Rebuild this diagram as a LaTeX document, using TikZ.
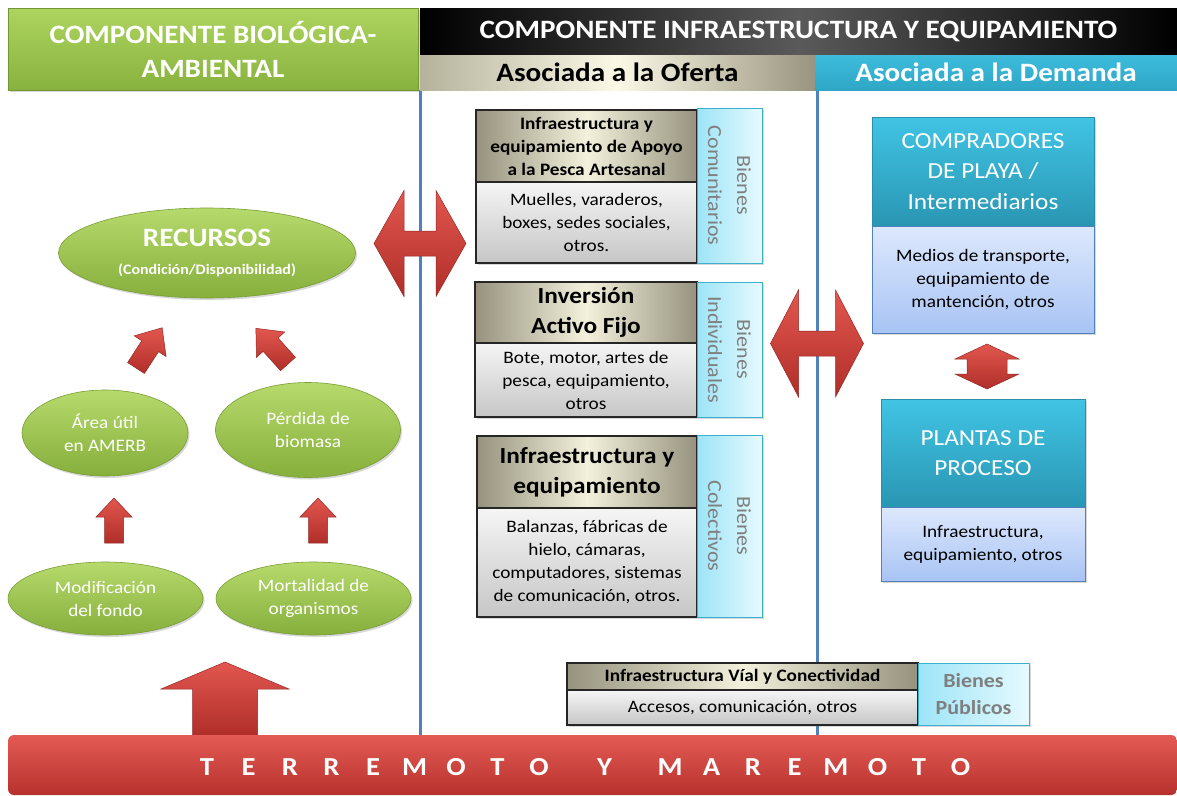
\documentclass[tikz,border=0pt]{standalone}
\usepackage{fontspec}
\setmainfont{Carlito}[FakeStretch=1.1]
\usetikzlibrary{shapes.geometric,shadows}
\definecolor{cGreenT}{HTML}{ADD45F}
\definecolor{cGreenB}{HTML}{88B23E}
\definecolor{cEllT}{HTML}{B6DA6C}
\definecolor{cEllB}{HTML}{86AF3C}
\definecolor{cGrayMid}{HTML}{5A5A5A}
\definecolor{cBeigeL}{HTML}{B5B29C}
\definecolor{cCream}{HTML}{FBF9E6}
\definecolor{cBeigeR}{HTML}{98947F}
\definecolor{cCyanT}{HTML}{3DBCDC}
\definecolor{cCyanB}{HTML}{2FA6C6}
\definecolor{cLine}{HTML}{4F81BD}
\definecolor{cRedT}{HTML}{E35A54}
\definecolor{cRedB}{HTML}{B8322D}
\definecolor{cArrT}{HTML}{E2574F}
\definecolor{cArrB}{HTML}{B02E29}
\definecolor{cHdrE}{HTML}{96927D}
\definecolor{cHdrC}{HTML}{F3F1DC}
\definecolor{cBodyT}{HTML}{F5F5F5}
\definecolor{cBodyB}{HTML}{C6C6C6}
\definecolor{cSideL}{HTML}{9DE4F7}
\definecolor{cSideR}{HTML}{E6FAFE}
\definecolor{cSideD}{HTML}{3FAFD0}
\definecolor{cSideTxt}{HTML}{7F7F7F}
\definecolor{cDemT}{HTML}{41C4E4}
\definecolor{cDemB}{HTML}{2996B3}
\definecolor{cDemD}{HTML}{2A8DAA}
\definecolor{cDBodyT}{HTML}{DDE8FD}
\definecolor{cDBodyB}{HTML}{A8C4F4}
\newcommand\fsz[2]{\fontsize{#1}{#2}\selectfont}
\newcommand\LB[1]{\makebox[41.5pt]{#1}}
\tikzset{
 softshadow/.style={drop shadow={shadow xshift=1.5pt, shadow yshift=-2pt, opacity=0.3}},
 arrfill/.style={top color=cArrT, bottom color=cArrB, draw=cArrB!85!black, line width=0.5pt},
 pics/uparr/.style n args={4}{code={
   \path[arrfill] (-#2,0) -- (-#2,-#1+#4) -- (-#3,-#1+#4) -- (0,-#1) -- (#3,-#1+#4) -- (#2,-#1+#4) -- (#2,0) -- cycle;}},
 pics/dblarr/.style n args={4}{code={
   \path[arrfill] (-#1,0) -- (-#1+#4,-#3) -- (-#1+#4,-#2) -- (#1-#4,-#2) -- (#1-#4,-#3) -- (#1,0) -- (#1-#4,#3) -- (#1-#4,#2) -- (-#1+#4,#2) -- (-#1+#4,#3) -- cycle;}},
 hdrbase/.style={rectangle, inner sep=0pt, align=center, text=white, font=\bfseries\fsz{26.5}{34}},
 hgreen/.style={hdrbase, top color=cGreenT, bottom color=cGreenB, draw=cGreenB!85!black, line width=0.6pt, softshadow},
 hblack/.style={hdrbase, left color=black, right color=black, middle color=cGrayMid},
 hoferta/.style={hdrbase, text=black, left color=cBeigeL, right color=cBeigeR, middle color=cCream},
 hdemanda/.style={hdrbase, top color=cCyanT, bottom color=cCyanB},
 vline/.style={draw=cLine, line width=3pt},
 ell/.style={ellipse, inner sep=0pt, top color=cEllT, bottom color=cEllB, draw=cEllB!90!black, line width=0.6pt, text=white, align=center, softshadow},
 ellsmall/.style={ell, font=\fsz{17.5}{23}},
 bhdr/.style={rectangle, inner sep=0pt, left color=cHdrE, right color=cHdrE, middle color=cHdrC, draw=black!85, line width=1.2pt, align=center, text=black, softshadow},
 bbody/.style={rectangle, inner sep=0pt, top color=cBodyT, bottom color=cBodyB, draw=black!85, line width=1.2pt, align=center, font=\fsz{17.5}{23}, softshadow},
 bside/.style={rectangle, inner sep=0pt, left color=cSideL, right color=cSideR, draw=cSideD, line width=1pt, softshadow},
 sidetxt/.style={text=cSideTxt, align=center, font=\fsz{20}{29}, inner sep=0pt},
 dhdr/.style={rectangle, inner sep=0pt, top color=cDemT, bottom color=cDemB, draw=cDemD, line width=1pt, text=white, align=center, font=\fsz{23}{30.5}, softshadow},
 dbody/.style={rectangle, inner sep=0pt, top color=cDBodyT, bottom color=cDBodyB, draw=cLine, line width=1pt, align=center, font=\fsz{17.5}{23}, softshadow},
}
\begin{document}
\begin{tikzpicture}[x=1pt, y=-1pt]
\useasboundingbox (0,0) rectangle (1177,795);
\fill[white] (0,0) rectangle (1177,795);

% vertical separators
\coordinate (v1a) at (420,90);
\coordinate (v1b) at (420,735);
\coordinate (v2a) at (817,90);
\coordinate (v2b) at (817,735);
\draw[vline] (v1a) -- (v1b);
\draw[vline] (v2a) -- (v2b);

% headers
\node[hgreen, minimum width=410pt, minimum height=82pt] (hbio) at (213,49) {COMPONENTE BIOLÓGICA-\\AMBIENTAL};
\node[hblack, minimum width=757pt, minimum height=47pt] (hinf) at (798.5,31.5) {COMPONENTE INFRAESTRUCTURA Y EQUIPAMIENTO};
\node[hoferta, minimum width=395pt, minimum height=35pt] (hofe) at (617.5,72.5) {Asociada a la Oferta};
\node[hdemanda, minimum width=362pt, minimum height=35pt] (hdem) at (996,72.5) {Asociada a la Demanda};

% left column ellipses
\node[ell, minimum width=297pt, minimum height=90pt, font=\bfseries\fsz{26.5}{28}] (rec) at (207,253) {RECURSOS\\{\fsz{14.5}{28}(Condición/Disponibilidad)}};
\node[ellsmall, minimum width=166pt, minimum height=86pt] (area) at (105,433) {Área útil\\en AMERB};
\node[ellsmall, minimum width=185pt, minimum height=95pt] (perd) at (308,430) {Pérdida de\\biomasa};
\node[ellsmall, minimum width=195pt, minimum height=73pt] (modif) at (105.5,598.5) {Modificación\\del fondo};
\node[ellsmall, minimum width=195pt, minimum height=73pt] (mort) at (313.5,598.5) {Mortalidad de\\organismos};

% middle boxes
\node[bhdr, minimum width=221pt, minimum height=72pt, font=\bfseries\fsz{17.5}{23}] (b1h) at (586.5,146) {Infraestructura y\\equipamiento de Apoyo\\a la Pesca Artesanal};
\node[bbody, minimum width=221pt, minimum height=81pt] (b1b) at (586.5,222.5) {Muelles, varaderos,\\boxes, sedes sociales,\\otros.};
\node[bside, minimum width=65pt, minimum height=155pt] (b1s) at (729.5,185.5) {};
\node[sidetxt, rotate=-90] (b1t) at (b1s.center) {Bienes\\Comunitarios};

\node[bhdr, minimum width=222pt, minimum height=61pt, font=\bfseries\fsz{23}{30}] (b2h) at (586,312.5) {Inversión\\Activo Fijo};
\node[bbody, minimum width=222pt, minimum height=74pt] (b2b) at (586,380) {Bote, motor, artes de\\pesca, equipamiento,\\otros};
\node[bside, minimum width=65pt, minimum height=135pt] (b2s) at (729.5,349.5) {};
\node[sidetxt, rotate=-90] (b2t) at (b2s.center) {Bienes\\Individuales};

\node[bhdr, minimum width=220pt, minimum height=72pt, font=\bfseries\fsz{23}{30}] (b3h) at (587,472) {Infraestructura y\\equipamiento};
\node[bbody, minimum width=220pt, minimum height=109pt] (b3b) at (587,562.5) {Balanzas, fábricas de\\hielo, cámaras,\\computadores, sistemas\\de comunicación, otros.};
\node[bside, minimum width=65pt, minimum height=182pt] (b3s) at (729.5,526) {};
\node[sidetxt, rotate=-90] (b3t) at (b3s.center) {Bienes\\Colectivos};

\node[bhdr, minimum width=351pt, minimum height=27pt, font=\bfseries\fsz{17.5}{23}] (b4h) at (742.5,676.5) {Infraestructura Víal y Conectividad};
\node[bbody, minimum width=351pt, minimum height=35pt] (b4b) at (742.5,707.5) {Accesos, comunicación, otros};
\node[bside, minimum width=111pt, minimum height=62pt] (b4s) at (973.5,694) {};
\node[sidetxt, font=\bfseries\fsz{20}{27}] (b4t) at (b4s.center) {Bienes\\Públicos};

% right boxes
\node[dhdr, minimum width=222pt, minimum height=109pt] (comh) at (983,171.5) {COMPRADORES\\DE PLAYA /\\Intermediarios};
\node[dbody, minimum width=222pt, minimum height=107pt] (comb) at (983,279.5) {Medios de transporte,\\equipamiento de\\mantención, otros};
\node[dhdr, minimum width=204pt, minimum height=108pt] (plah) at (983,453) {PLANTAS DE\\PROCESO};
\node[dbody, minimum width=204pt, minimum height=74pt] (plab) at (983,544) {Infraestructura,\\equipamiento, otros};

% block arrows
\pic at (420,243.5) {dblarr={46}{12.5}{53}{30}};
\pic at (817,343.5) {dblarr={46.5}{12.5}{53.5}{28}};
\pic[rotate=90] at (987,366.5) {dblarr={22.5}{20}{32}{15}};
\pic[rotate=-33] at (136,368) {uparr={48}{10}{19}{22}};
\pic[rotate=42] at (288,364) {uparr={48}{10}{19}{22}};
\pic at (114,543) {uparr={45}{9.5}{18}{19}};
\pic at (318,543) {uparr={45}{9.5}{18}{19}};
\pic at (225,736) {uparr={74}{32.5}{64}{27}};

% bottom bar
\node[rectangle, rounded corners=6pt, top color=cRedT, bottom color=cRedB, minimum width=1169pt, minimum height=60pt, inner sep=0pt] (terr) at (592.5,765) {};
\node[text=white, font=\bfseries\fsz{26}{30}, inner sep=0pt] (terrtxt) at (583.75,767) {\LB{T}\LB{E}\LB{R}\LB{R}\LB{E}\LB{M}\LB{O}\LB{T}\LB{O}\hspace{24pt}\LB{Y}\hspace{24pt}\LB{M}\LB{A}\LB{R}\LB{E}\LB{M}\LB{O}\LB{T}\LB{O}};
\end{tikzpicture}
\end{document}
